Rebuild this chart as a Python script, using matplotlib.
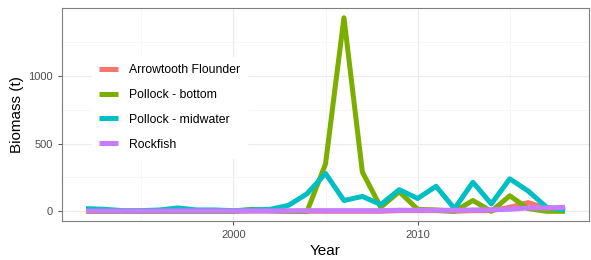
import matplotlib.pyplot as plt
import numpy as np

plt.rcParams['font.family'] = ['Liberation Sans', 'DejaVu Sans']

years = np.arange(1992, 2019)
species = ['Arrowtooth Flounder', 'Pollock - bottom', 'Pollock - midwater', 'Rockfish']
colors = ['#F8766D', '#7CAE00', '#00BFC4', '#C77CFF']

arrowtooth = [0, 0, 0, 0, 0, 0, 0, 0, 0, 2, 2, 0, 0, 0, 0, 0, 0, 5, 5, 5, 0, 5, 5, 30, 65, 20, 5]
pollock_bottom = [0, 0, 0, 0, 0, 0, 0, 0, 0, 15, 5, 0, 0, 350, 1430, 290, 30, 145, 15, 10, 0, 80, 0, 115, 20, 0, 0]
pollock_mid = [20, 15, 5, 5, 10, 25, 10, 10, 5, 10, 15, 45, 130, 280, 80, 110, 50, 160, 95, 185, 20, 215, 55, 240, 150, 30, 10]
rockfish = [2, 2, 2, 2, 2, 3, 3, 3, 3, 3, 3, 4, 5, 5, 5, 5, 5, 8, 8, 8, 8, 10, 12, 15, 25, 25, 30]

series = [arrowtooth, pollock_bottom, pollock_mid, rockfish]

fig = plt.figure(figsize=(5.91, 2.60), dpi=100)
ax = fig.add_axes([0.105, 0.15, 0.8916, 0.819])

for name, vals, c in zip(species, series, colors):
    ax.plot(years, vals, color=c, lw=3.6, label=name, solid_capstyle='butt')

ax.set_xlim(1990.7, 2019.3)
ax.set_ylim(-71.5, 1501.5)
ax.set_xticks([2000, 2010])
ax.set_xticks([1995, 2005, 2015], minor=True)
ax.set_yticks([0, 500, 1000])
ax.set_yticks([250, 750, 1250], minor=True)
ax.grid(which='major', color='#EBEBEB', lw=0.8)
ax.grid(which='minor', color='#F4F4F4', lw=0.5)
ax.set_axisbelow(True)
ax.tick_params(which='major', length=3, color='#333333', labelsize=8, labelcolor='#4D4D4D', width=0.6)
ax.tick_params(which='minor', length=0)
for s in ax.spines.values():
    s.set_color('#7F7F7F')
    s.set_linewidth(0.8)

ax.set_xlabel('Year', fontsize=11, labelpad=3)
ax.set_ylabel('Biomass (t)', fontsize=11, labelpad=3)

leg = ax.legend(loc='upper left', bbox_to_anchor=(0.045, 0.80), frameon=True, fontsize=8.8,
                handlelength=1.55, handletextpad=0.85, labelspacing=1.05, borderpad=0.6)
leg.get_frame().set_facecolor('white')
leg.get_frame().set_edgecolor('white')
leg.get_frame().set_alpha(1)
leg.get_frame().set_boxstyle('square', pad=0)

fig.savefig('out.png', dpi=100)
